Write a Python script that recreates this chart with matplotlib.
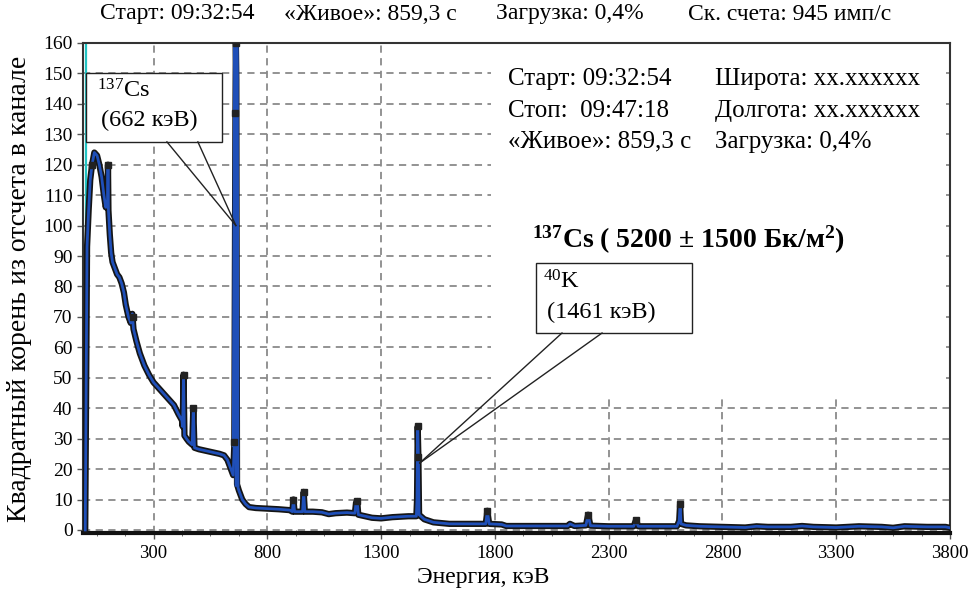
import matplotlib
matplotlib.use("Agg")
import matplotlib.pyplot as plt
from matplotlib.patches import Rectangle
from matplotlib.ticker import MultipleLocator, FixedLocator

plt.rcParams['font.family'] = ['Liberation Serif', 'DejaVu Serif']
plt.rcParams['mathtext.fontset'] = 'custom'
plt.rcParams['mathtext.rm'] = 'Liberation Serif'

# - Data (energy in keV, square root of counts per channel)

energy = [0, 8, 15, 22, 30, 40, 52, 62, 72, 82, 90, 96, 98, 100, 102, 108, 114, 120,
          130, 140, 150, 160, 170, 178, 190, 200, 207, 212, 225, 240, 260, 280, 300,
          330, 360, 390, 410, 425, 428, 432, 436, 445, 455, 470, 475, 480, 500, 530,
          560, 590, 610, 625, 640, 650, 655, 660, 662, 664, 667, 675, 690, 705, 720,
          750, 800, 850, 900, 910, 915, 920, 955, 960, 965, 1000, 1040, 1070, 1100,
          1150, 1185, 1190, 1195, 1200, 1230, 1260, 1300, 1350, 1420, 1455, 1458,
          1461, 1464, 1467, 1490, 1530, 1600, 1700, 1760, 1767, 1775, 1830, 1850,
          2000, 2120, 2130, 2150, 2200, 2210, 2220, 2300, 2410, 2420, 2430, 2500,
          2600, 2610, 2614, 2618, 2640, 2700, 2800, 2900, 2950, 3000, 3100, 3150,
          3200, 3300, 3400, 3500, 3550, 3600, 3700, 3780, 3800]
sqrt_counts = [0, 93, 105, 115, 120, 124, 123, 120, 116, 110, 106, 108, 106, 120, 105, 97, 91, 88,
               86, 84, 83, 81, 78, 74, 70, 68, 71, 66, 62, 58, 54, 51, 48.5,
               46, 43.5, 41, 38, 36, 34, 51, 31, 30, 29, 28, 40, 27, 26.5, 26,
               25.5, 25, 24.5, 23, 20, 18, 28, 137, 160, 148, 15, 13, 10, 8.5, 7.5,
               7.2, 7, 6.8, 6.5, 6, 10, 6, 6, 12.5, 6, 6, 5.8, 5.2, 5.5,
               5.7, 5.5, 9, 9.5, 5, 4.5, 4, 3.8, 4.2, 4.5, 4.5, 10,
               34, 24, 5, 3.5, 2.5, 2, 2, 2, 6.3, 2, 1.8, 1.3,
               1.3, 1.3, 2, 1.3, 1.5, 5, 1.4, 1.2, 1.2, 3.2, 1.2, 1.2,
               1.2, 3, 8.5, 2, 1.5, 1.2, 1, 0.8, 1.2, 1, 1, 1.3,
               1, 0.8, 1.2, 1, 0.7, 1.2, 1, 1, 0.7]

# Cs-137 photopeak channels, drawn on top in plain blue
cs_energy = [655, 660, 662, 664, 667]
cs_value = [28, 137, 160, 148, 15]

# marked channels on the peaks
peak_energy = [30, 100, 210, 432, 475, 655, 660, 662, 915, 960, 1195, 1461, 1464, 1767, 2210, 2420, 2614]
peak_value = [120, 120, 70, 51, 40, 29, 137, 160, 10, 12.5, 9.5, 34, 24, 6.3, 5, 3.2, 8.5]

x_ticks = [300, 800, 1300, 1800, 2300, 2800, 3300, 3800]
y_ticks = list(range(0, 161, 10))

title_parts = ["Старт: 09:32:54", "«Живое»: 859,3 с", "Загрузка: 0,4%", "Ск. счета: 945 имп/с"]
title_x = [100, 284, 496, 688]
info_left = ["Старт: 09:32:54", "Стоп:  09:47:18", "«Живое»: 859,3 с"]
info_right = ["Широта: xx.xxxxxx", "Долгота: xx.xxxxxx", "Загрузка: 0,4%"]

# - Figure

fig = plt.figure(figsize=(9.68, 5.89), dpi=100)
ax = fig.add_axes([0.0857, 0.0951, 0.8957, 0.832])
ax.set_xlim(-10, 3800)
ax.set_ylim(-1, 160)
ax.set_axisbelow(True)

ax.xaxis.set_major_locator(FixedLocator(x_ticks))
ax.xaxis.set_minor_locator(MultipleLocator(125, offset=50))
ax.yaxis.set_major_locator(FixedLocator(y_ticks))
ax.grid(True, which='major', color='#8a8a8a', linestyle=(0, (4, 3)), linewidth=1.3)
ax.tick_params(axis='both', which='major', length=4, width=1, color='#555555')
ax.tick_params(axis='y', which='major', labelsize=14)
ax.tick_params(axis='x', which='major', labelsize=13.5, pad=5)
ax.tick_params(axis='x', which='minor', length=4, direction='inout', color='#555555')

for side in ['left', 'right', 'top']:
    ax.spines[side].set_linewidth(1.5)
    ax.spines[side].set_color('#333333')
ax.spines['bottom'].set_linewidth(3)
ax.spines['bottom'].set_color('#111111')

# white panel behind the info text hides the grid
ax.add_patch(Rectangle((1781, 43), 2000, 116.5, facecolor='white', edgecolor='none', zorder=1))

ax.axvline(5, color='#22c4c4', linewidth=1.6, zorder=2)

ax.plot(energy, sqrt_counts, color='#151515', linewidth=4.5, solid_joinstyle='round', zorder=3)
ax.plot(energy, sqrt_counts, color='#1f4fb8', linewidth=2, zorder=4)
ax.plot(cs_energy, cs_value, color='#1f4fb8', linewidth=3.5, zorder=4.5)
ax.plot(peak_energy, peak_value, linestyle='none', marker='s', markersize=4,
        color='#222222', zorder=5)

# - Callouts

def callout(box, bases, tip, lines):
    x0, y0, w, h = box
    ax.add_patch(Rectangle((x0, y0), w, h, facecolor='white', edgecolor='#222222',
                           linewidth=1, zorder=6))
    for b in bases:
        ax.plot([b, tip[0]], [y0, tip[1]], color='#222222', linewidth=1, zorder=6)
    for tx, ty, s in lines:
        ax.text(tx, ty, s, fontsize=17.5, va='center', zorder=7)

callout((3, 127.5, 598, 22.6), (359, 495), (662, 100),
        [(51, 144.2, r"$\mathregular{^{137}}$Cs"), (69, 134.4, "(662 кэВ)")])
callout((1980, 64.7, 686, 23), (2095, 2271), (1470, 22),
        [(2011, 81.6, r"$\mathregular{^{40}}$K"), (2028, 71.4, "(1461 кэВ)")])

# - Info text

rows_y = [148.3, 137.8, 127.6]
for y, left, right in zip(rows_y, info_left, info_right):
    ax.text(1857, y, left, fontsize=18, va='center', zorder=7)
    ax.text(2767, y, right, fontsize=18, va='center', zorder=7)
ax.text(1963, 95.3, r"$\mathregular{^{137}}$Cs ( 5200 ± 1500 Бк/м$\mathregular{^{2}}$)",
        fontsize=20, fontweight='bold', va='center', zorder=7)

for x, s in zip(title_x, title_parts):
    fig.text(x / 968, 1 - 14 / 589, s, fontsize=17, ha='left', va='center')
fig.text(483 / 968, 1 - 577 / 589, "Энергия, кэВ", fontsize=17, ha='center', va='center')
fig.text(20 / 968, 1 - 289 / 589, "Квадратный корень из отсчета в канале", fontsize=20,
         rotation=90, ha='center', va='center')

fig.savefig("out.png", dpi=100)
